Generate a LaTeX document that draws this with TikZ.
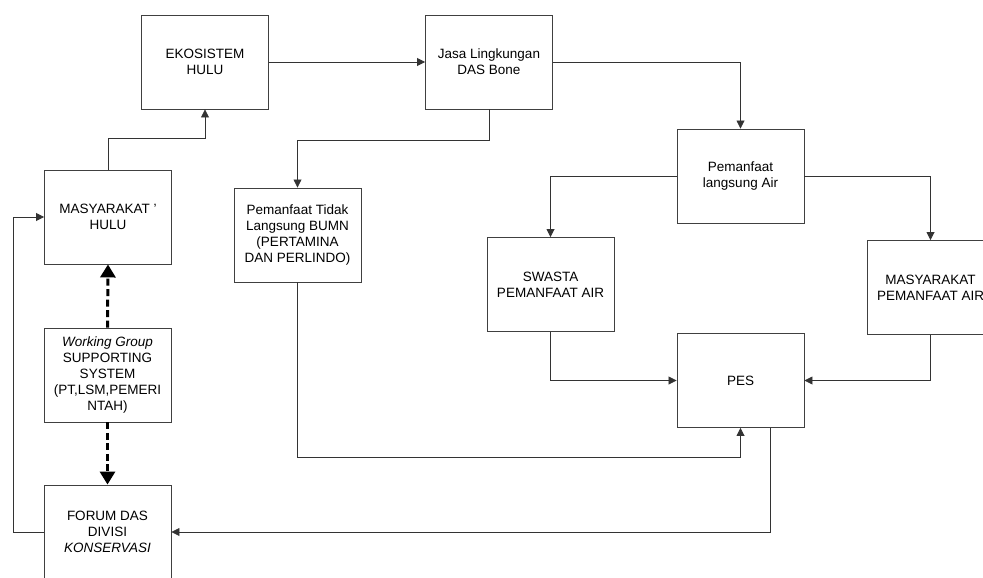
\documentclass[tikz,border=0pt]{standalone}
\usepackage{fontspec}
\setmainfont{Liberation Sans}
\usetikzlibrary{arrows.meta}
\begin{document}
\begin{tikzpicture}[x=1pt,y=-1pt,
  box/.style={draw=black!75, line width=0.9pt, minimum width=127pt, minimum height=94pt,
    align=center, inner sep=2pt, font=\fontsize{13.5}{16}\selectfont, text=black},
  link/.style={draw=black!80, line width=0.8pt, -{Triangle[length=8pt,width=8pt]}},
  support/.style={draw=black, line width=3pt, dash pattern=on 7pt off 3.5pt,
    -{Triangle[length=13pt,width=15pt]}}]
\useasboundingbox[fill=white] (0,0) rectangle (983,578);

% boxes
\node[box] (eko)    at (205,62)    {EKOSISTEM\\HULU};
\node[box] (jasa)   at (489,62)    {Jasa Lingkungan\\DAS Bone};
\node[box] (masy)   at (108,217)   {MASYARAKAT '\\HULU};
\node[box] (tidak)  at (297.5,235) {Pemanfaat Tidak\\Langsung BUMN\\(PERTAMINA\\DAN PERLINDO)};
\node[box] (lang)   at (740.5,176) {Pemanfaat\\langsung Air};
\node[box] (swasta) at (550.5,284.5) {SWASTA\\PEMANFAAT AIR};
\node[box] (masyp)  at (930.5,287.5) {MASYARAKAT\\PEMANFAAT AIR};
\node[box] (pes)    at (740.5,380.5) {PES};
\node[box] (wg)     at (107.5,375) {\textit{Working Group}\\SUPPORTING\\SYSTEM\\(PT,LSM,PEMERI\\NTAH)};
\node[box] (forum)  at (107.5,532) {FORUM DAS\\DIVISI\\\textit{KONSERVASI}};

% flows
\draw[link] (masy.north) -- (masy.north |- 0,138) -| (eko.south);
\draw[link] (eko) -- (jasa);
\draw[link] (jasa.east) -| (lang.north);
\draw[link] (jasa.south) -- (jasa.south |- 0,140) -| (tidak.north);
\draw[link] (lang.west) -| (swasta.north);
\draw[link] (lang.east) -| (masyp.north);
\draw[link] (swasta.south) |- (pes.west);
\draw[link] (masyp.south) |- (pes.east);
\draw[link] (tidak.south) -- (tidak.south |- 0,457) -| (pes.south);
\draw[link] ([xshift=29.5pt]pes.south) |- (forum.east);
\draw[link] (forum.west) -- ++(-30,0) |- (masy.west);

% supporting system links
\draw[support] (wg.north) -- (masy.south);
\draw[support] (wg.south) -- (forum.north);
\end{tikzpicture}
\end{document}
